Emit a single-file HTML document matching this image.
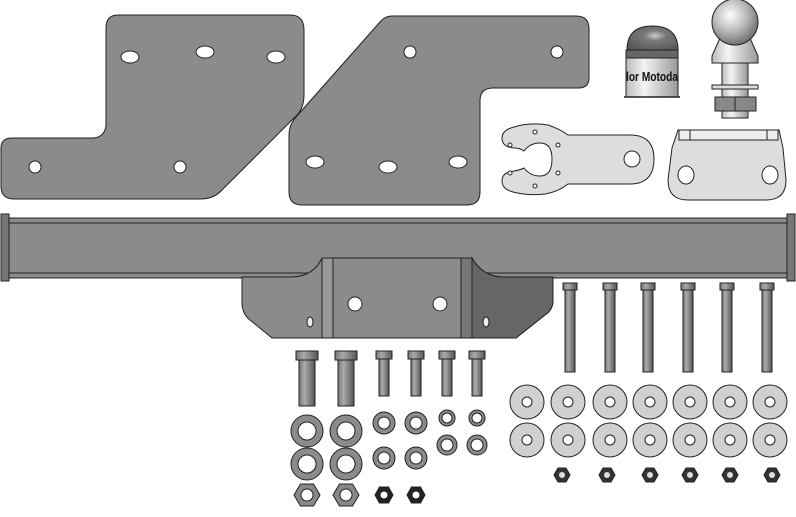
<!DOCTYPE html>
<html><head><meta charset="utf-8"><style>
html,body{margin:0;padding:0;background:#fff;}
svg{display:block;}
</style></head><body>
<svg width="796" height="517" viewBox="0 0 796 517" xmlns="http://www.w3.org/2000/svg">
<defs>
<linearGradient id="cyl" x1="0" x2="1"><stop offset="0" stop-color="#777"/><stop offset=".35" stop-color="#aaa"/><stop offset="1" stop-color="#555"/></linearGradient>
<linearGradient id="cylL" x1="0" x2="1"><stop offset="0" stop-color="#bbb"/><stop offset=".35" stop-color="#f4f4f4"/><stop offset="1" stop-color="#999"/></linearGradient>
<radialGradient id="ball" cx=".4" cy=".35" r=".7"><stop offset="0" stop-color="#fff"/><stop offset=".5" stop-color="#bbb"/><stop offset="1" stop-color="#666"/></radialGradient>
<radialGradient id="dome" cx=".55" cy=".4" r=".7"><stop offset="0" stop-color="#ccc"/><stop offset=".3" stop-color="#7a7a7a"/><stop offset="1" stop-color="#555"/></radialGradient>
</defs>
<g stroke="#222" stroke-width="1">
<path d="M118,15 L290,15 Q304,15 304,30 L304,95 Q304,110 294,118 L222,190 Q214,199 200,199 L14,199 Q1,199 1,186 L1,148 Q1,138 12,138 L92,138 Q104,138 106,126 L106,28 Q106,15 118,15 Z" fill="#8b8b8b"/>
<ellipse cx="130" cy="57" rx="9" ry="6" fill="#fff"/>
<ellipse cx="205" cy="52" rx="9" ry="6" fill="#fff"/>
<ellipse cx="276" cy="57" rx="9" ry="6" fill="#fff"/>
<circle cx="35" cy="167" r="6" fill="#fff"/>
<circle cx="180" cy="167" r="6" fill="#fff"/>
<path d="M392,16 L576,16 Q589,16 589,29 L589,78 Q589,88 578,88 L493,88 Q480,88 480,101 L480,192 Q480,205 467,205 L302,205 Q289,205 289,192 L289,135 Q289,125 296,117 L380,22 Q385,16 392,16 Z" fill="#8b8b8b"/>
<circle cx="410" cy="52" r="6" fill="#fff"/>
<circle cx="557" cy="52" r="6" fill="#fff"/>
<ellipse cx="315" cy="162" rx="9" ry="6" fill="#fff"/>
<ellipse cx="388" cy="167" rx="9" ry="6" fill="#fff"/>
<ellipse cx="458" cy="162" rx="9" ry="6" fill="#fff"/>
<path d="M627,50 Q627,26 652,26 Q678,26 678,50 Z" fill="url(#dome)"/>
<rect x="626" y="50" width="52" height="8" fill="#666"/>
<rect x="626" y="58" width="52" height="39" fill="url(#cylL)"/>
<line x1="624" y1="97" x2="680" y2="97" stroke-width="1.5"/>
</g>
<text x="652" y="81" text-anchor="middle" font-family="Liberation Sans, sans-serif" font-weight="bold" font-size="13" textLength="52" lengthAdjust="spacingAndGlyphs" fill="#111">lor Motoda</text>
<g stroke="#222" stroke-width="1">
<path d="M720,38 L750,38 L758,56 L758,63 L712,63 L712,56 Z" fill="url(#cylL)"/>
<circle cx="735" cy="22" r="23" fill="url(#ball)"/>
<rect x="722" y="63" width="26" height="55" fill="url(#cylL)"/>
<rect x="712" y="85" width="46" height="4" fill="#ddd"/>
<rect x="715" y="97" width="41" height="14" fill="#888"/>
<line x1="735" y1="97" x2="735" y2="111"/>
<path d="M514,127 Q530,122 548,125 Q560,129 568,135 L630,135 Q654,135 654,159 Q654,184 630,184 L568,184 Q558,192 545,194 Q528,196 513,192 Q502,189 502,181 Q502,172 514,171 Q520,170 524,168 Q530,176 540,176 Q552,176 552,159 Q552,143 540,143 Q530,143 524,151 Q520,148 514,148 Q502,147 502,138 Q502,130 514,127 Z" fill="#ddd"/>
<circle cx="632" cy="159" r="8" fill="#fff"/>
<circle cx="535" cy="132" r="2" fill="#fff"/><circle cx="535" cy="186" r="2" fill="#fff"/>
<circle cx="510" cy="145" r="2" fill="#fff"/><circle cx="510" cy="173" r="2" fill="#fff"/>
<circle cx="558" cy="145" r="2" fill="#fff"/><circle cx="558" cy="173" r="2" fill="#fff"/>
<path d="M678,130 L779,130 L783,148 L786,180 Q786,200 766,200 L688,200 Q668,200 668,180 L672,148 Z" fill="#ddd"/>
<rect x="679" y="130" width="99" height="10" fill="#eee"/>
<line x1="690" y1="130" x2="690" y2="140"/><line x1="767" y1="130" x2="767" y2="140"/>
<ellipse cx="686" cy="175" rx="8" ry="9" fill="#fff"/>
<ellipse cx="770" cy="175" rx="8" ry="9" fill="#fff"/>
<!-- crossbar -->
<rect x="9" y="218" width="778" height="60" fill="#8b8b8b"/>
<line x1="9" y1="223" x2="787" y2="223"/>
<line x1="9" y1="273" x2="787" y2="273"/>
<rect x="1" y="214" width="8" height="67" fill="#777"/>
<rect x="787" y="214" width="8" height="67" fill="#777"/>
<!-- center bottom plate over bar -->
<path d="M242,277 L292,277 Q314,276 322,258 L472,258 Q482,276 502,277 L553,277 L553,300 Q553,310 545,315 L516,338 L272,338 L250,320 Q242,314 242,302 Z" fill="#8b8b8b"/>
<path d="M472,258 Q482,276 502,277 L553,277 L553,300 Q553,310 545,315 L516,338 L472,338 Z" fill="#666"/>
<rect x="322" y="258" width="150" height="80" fill="#8b8b8b"/>
<rect x="322" y="258" width="11" height="80" fill="#999"/>
<rect x="461" y="258" width="11" height="80" fill="#777"/>
<circle cx="355" cy="304" r="7" fill="#fff"/>
<circle cx="440" cy="304" r="7" fill="#fff"/>
<ellipse cx="310" cy="322" rx="3" ry="5" fill="#eee"/>
<ellipse cx="486" cy="322" rx="3" ry="5" fill="#eee"/>
<g fill="url(#cyl)">
<rect x="563" y="283" width="14" height="7"/><rect x="565" y="290" width="10" height="82"/>
<rect x="603" y="283" width="14" height="7"/><rect x="605" y="290" width="10" height="82"/>
<rect x="641" y="283" width="14" height="7"/><rect x="643" y="290" width="10" height="82"/>
<rect x="681" y="283" width="14" height="7"/><rect x="683" y="290" width="10" height="82"/>
<rect x="720" y="283" width="14" height="7"/><rect x="722" y="290" width="10" height="82"/>
<rect x="760" y="283" width="14" height="7"/><rect x="762" y="290" width="10" height="82"/>
</g>
<g fill="#d0d0d0">
<circle cx="527" cy="402" r="17"/><circle cx="568" cy="402" r="17"/><circle cx="610" cy="402" r="17"/><circle cx="650" cy="402" r="17"/><circle cx="690" cy="402" r="17"/><circle cx="730" cy="402" r="17"/><circle cx="770" cy="402" r="17"/>
<circle cx="527" cy="440" r="17"/><circle cx="568" cy="440" r="17"/><circle cx="610" cy="440" r="17"/><circle cx="650" cy="440" r="17"/><circle cx="690" cy="440" r="17"/><circle cx="730" cy="440" r="17"/><circle cx="770" cy="440" r="17"/>
</g>
<g fill="#fff">
<circle cx="527" cy="402" r="5"/><circle cx="568" cy="402" r="5"/><circle cx="610" cy="402" r="5"/><circle cx="650" cy="402" r="5"/><circle cx="690" cy="402" r="5"/><circle cx="730" cy="402" r="5"/><circle cx="770" cy="402" r="5"/>
<circle cx="527" cy="440" r="5"/><circle cx="568" cy="440" r="5"/><circle cx="610" cy="440" r="5"/><circle cx="650" cy="440" r="5"/><circle cx="690" cy="440" r="5"/><circle cx="730" cy="440" r="5"/><circle cx="770" cy="440" r="5"/>
</g>
<g fill="#333">
<polygon points="554,475 558,468 566,468 570,475 566,482 558,482"/>
<polygon points="599,475 603,468 611,468 615,475 611,482 603,482"/>
<polygon points="642,475 646,468 654,468 658,475 654,482 646,482"/>
<polygon points="682,475 686,468 694,468 698,475 694,482 686,482"/>
<polygon points="722,475 726,468 734,468 738,475 734,482 726,482"/>
<polygon points="764,475 768,468 776,468 780,475 776,482 768,482"/>
</g>
<g fill="#ddd" stroke="none">
<circle cx="562" cy="475" r="3"/><circle cx="607" cy="475" r="3"/><circle cx="650" cy="475" r="3"/><circle cx="690" cy="475" r="3"/><circle cx="730" cy="475" r="3"/><circle cx="772" cy="475" r="3"/>
</g>
<g fill="url(#cyl)">
<rect x="296" y="351" width="22" height="9"/><rect x="299" y="360" width="16" height="46"/>
<rect x="335" y="351" width="22" height="9"/><rect x="338" y="360" width="16" height="46"/>
<rect x="376" y="351" width="16" height="8"/><rect x="379" y="359" width="10" height="37"/>
<rect x="408" y="351" width="16" height="8"/><rect x="411" y="359" width="10" height="37"/>
<rect x="439" y="351" width="16" height="8"/><rect x="442" y="359" width="10" height="37"/>
<rect x="469" y="351" width="16" height="8"/><rect x="472" y="359" width="10" height="37"/>
</g>
<g fill="#8b8b8b">
<circle cx="307" cy="431" r="16"/><circle cx="346" cy="431" r="16"/>
<circle cx="307" cy="464" r="16"/><circle cx="346" cy="464" r="16"/>
<circle cx="384" cy="423" r="11"/><circle cx="416" cy="423" r="11"/>
<circle cx="384" cy="458" r="11"/><circle cx="416" cy="458" r="11"/>
<circle cx="447" cy="418" r="8"/><circle cx="477" cy="418" r="8"/>
<circle cx="447" cy="445" r="10"/><circle cx="477" cy="445" r="10"/>
</g>
<g fill="#fff">
<circle cx="307" cy="431" r="9"/><circle cx="346" cy="431" r="9"/>
<circle cx="307" cy="464" r="9"/><circle cx="346" cy="464" r="9"/>
<circle cx="384" cy="423" r="6"/><circle cx="416" cy="423" r="6"/>
<circle cx="384" cy="458" r="6"/><circle cx="416" cy="458" r="6"/>
<circle cx="447" cy="418" r="5"/><circle cx="477" cy="418" r="5"/>
<circle cx="447" cy="445" r="6"/><circle cx="477" cy="445" r="6"/>
</g>
<g fill="#888">
<polygon points="294,495 300.5,484 313.5,484 320,495 313.5,506 300.5,506"/>
<polygon points="333,495 339.5,484 352.5,484 359,495 352.5,506 339.5,506"/>
</g>
<g fill="#222">
<polygon points="375,495 379.5,487 388.5,487 393,495 388.5,503 379.5,503"/>
<polygon points="407,495 411.5,487 420.5,487 425,495 420.5,503 411.5,503"/>
</g>
<g fill="#fff">
<circle cx="307" cy="495" r="6"/><circle cx="346" cy="495" r="6"/>
<circle cx="384" cy="495" r="4"/><circle cx="416" cy="495" r="4"/>
</g>
</g>
</svg>
</body></html>
